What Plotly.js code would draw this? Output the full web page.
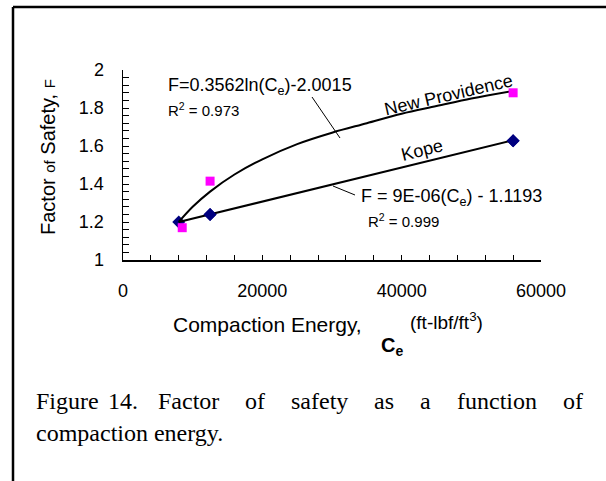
<!DOCTYPE html>
<html>
<head>
<meta charset="utf-8">
<script src="https://cdn.plot.ly/plotly-3.0.1.min.js"></script>
<style>
html,body{margin:0;padding:0;background:#fff;}
#chart{width:606px;height:481px;}
</style>
</head>
<body>
<div id="chart"></div>
<script>
// ---- data ----
const npX = [8500, 12500, 56000];          // New Providence measured points
const npY = [1.17, 1.415, 1.88];
const kopeX = [8000, 12500, 56000];        // Kope measured points
const kopeY = [1.20, 1.24, 1.627];
const npFitX = [8000, 10000, 12500, 16000, 20000, 25000, 30000, 35000, 40000, 45000, 50000, 56000];
const npFitY = [1.20, 1.28, 1.36, 1.45, 1.53, 1.61, 1.67, 1.72, 1.77, 1.81, 1.85, 1.89];
const kopeFitX = [8000, 56000];
const kopeFitY = [1.20, 1.63];
const xTickVals = [0, 20000, 40000, 60000];
const xTickText = ['0', '20000', '40000', '60000'];
const yTickVals = [1, 1.2, 1.4, 1.6, 1.8, 2];
const yTickText = ['1', '1.2', '1.4', '1.6', '1.8', '2'];
const captionHead = ['Figure', '14.'];
const captionLine1 = ['Factor', 'of', 'safety', 'as', 'a', 'function', 'of'];
const captionLine2 = 'compaction energy.';

// ---- layout helpers (pixel -> paper) ----
const L = 123, R = 541, T = 70, B = 260;
const W = 606, H = 481;
const px = v => (v - L) / (R - L);
const py = v => (B - v) / (B - T);
const SANS = 'Arial, "Liberation Sans", sans-serif';
const SERIF = '"Times New Roman", "Liberation Serif", serif';

const traces = [
  {x: kopeX, y: kopeY, mode: 'markers', marker: {symbol: 'diamond', size: 10, color: '#000080'}},
  {x: npFitX, y: npFitY, mode: 'lines', line: {color: '#000', width: 2, shape: 'spline'}, hoverinfo: 'skip'},
  {x: kopeFitX, y: kopeFitY, mode: 'lines', line: {color: '#000', width: 2}, hoverinfo: 'skip'},
  {x: kopeX.slice(1), y: kopeY.slice(1), mode: 'markers', marker: {symbol: 'diamond', size: 10, color: '#000080'}},
  {x: npX, y: npY, mode: 'markers', marker: {symbol: 'square', size: 9, color: '#FF00FF'}}
];

function ann(text, x, y, size, opts) {
  return Object.assign({
    text: text, xref: 'paper', yref: 'paper', x: px(x), y: py(y),
    xanchor: 'left', yanchor: 'middle', showarrow: false,
    font: {family: SANS, size: size, color: '#000'}
  }, opts || {});
}

const annotations = [
  ann('F=0.3562ln(C<sub>e</sub>)-2.0015', 166, 86, 18),
  ann('R<sup>2</sup> = 0.973', 166, 109, 15),
  ann('New Providence', 448, 95, 18, {xanchor: 'center', textangle: -13}),
  ann('Kope', 422, 150, 18, {xanchor: 'center', textangle: -14}),
  ann('F = 9E-06(C<sub>e</sub>) - 1.1193', 359, 197, 18),
  ann('R<sup>2</sup> = 0.999', 366, 220, 15),
  ann('Factor <span style="font-size:15px">of</span> Safety, <span style="font-size:15px">F</span>', 48, 157, 20,
      {xanchor: 'center', textangle: -90}),
  ann('Compaction Energy,', 171, 324, 21),
  ann('<b>C<sub>e</sub></b>', 379, 346, 20),
  ann('(ft-lbf/ft<sup>3</sup>)', 408, 321, 19)
];

// caption: "Figure 14." then tab, then justified remainder
const capSize = 24;
const serifFont = {family: SERIF, size: capSize, color: '#000'};
const capW = {Factor: 2.555, of: 0.833, safety: 2.388, as: 0.833, a: 0.444, function: 3.333};
annotations.push(ann(captionHead[0], 34, 401, capSize, {font: serifFont}));
annotations.push(ann(captionHead[1], 106, 401, capSize, {font: serifFont}));
let total = 0;
captionLine1.forEach(w => total += capW[w] * capSize);
const startX = 156, endX = 581;
const gap = (endX - startX - total) / (captionLine1.length - 1);
let cx = startX;
captionLine1.forEach(w => {
  annotations.push(ann(w, cx, 401, capSize, {font: serifFont}));
  cx += capW[w] * capSize + gap;
});
annotations.push(ann(captionLine2, 34, 433, capSize, {font: serifFont}));

const shapes = [
  {type: 'line', xref: 'paper', yref: 'paper', x0: px(312), y0: py(97), x1: px(340), y1: py(138), line: {color: '#000', width: 1}},
  {type: 'line', xref: 'paper', yref: 'paper', x0: px(333), y0: py(186), x1: px(355), y1: py(195), line: {color: '#000', width: 1}},
  {type: 'line', xref: 'paper', yref: 'paper', x0: px(13), y0: py(7), x1: px(606), y1: py(7), line: {color: '#000', width: 2.5}},
  {type: 'line', xref: 'paper', yref: 'paper', x0: px(13), y0: py(7), x1: px(13), y1: py(481), line: {color: '#000', width: 2.5}}
];

const layout = {
  width: W, height: H,
  margin: {l: L, r: W - R, t: T, b: H - B, pad: 0},
  paper_bgcolor: '#fff', plot_bgcolor: '#fff',
  showlegend: false,
  font: {family: SANS, size: 18, color: '#000'},
  xaxis: {
    range: [0, 60000], showgrid: false, zeroline: false,
    showline: true, linecolor: '#000', linewidth: 1.5,
    tickmode: 'array', tickvals: xTickVals, ticktext: xTickText,
    ticks: 'inside', ticklen: 5, tickcolor: '#000', tickwidth: 1,
    ticklabelstandoff: 14,
    tickfont: {family: SANS, size: 18, color: '#000'},
    minor: {dtick: 4000, ticks: 'inside', ticklen: 5, tickcolor: '#000', tickwidth: 1, showgrid: false}
  },
  yaxis: {
    range: [1, 2], showgrid: false, zeroline: false,
    showline: true, linecolor: '#000', linewidth: 1.5,
    tickmode: 'array', tickvals: yTickVals, ticktext: yTickText,
    ticks: 'inside', ticklen: 6, tickcolor: '#000', tickwidth: 1,
    ticklabelstandoff: 14,
    tickfont: {family: SANS, size: 18, color: '#000'},
    minor: {dtick: 0.04, ticks: 'inside', ticklen: 6, tickcolor: '#000', tickwidth: 1, showgrid: false}
  },
  annotations: annotations,
  shapes: shapes
};

Plotly.newPlot('chart', traces, layout, {displayModeBar: false, staticPlot: true});
</script>
</body>
</html>
